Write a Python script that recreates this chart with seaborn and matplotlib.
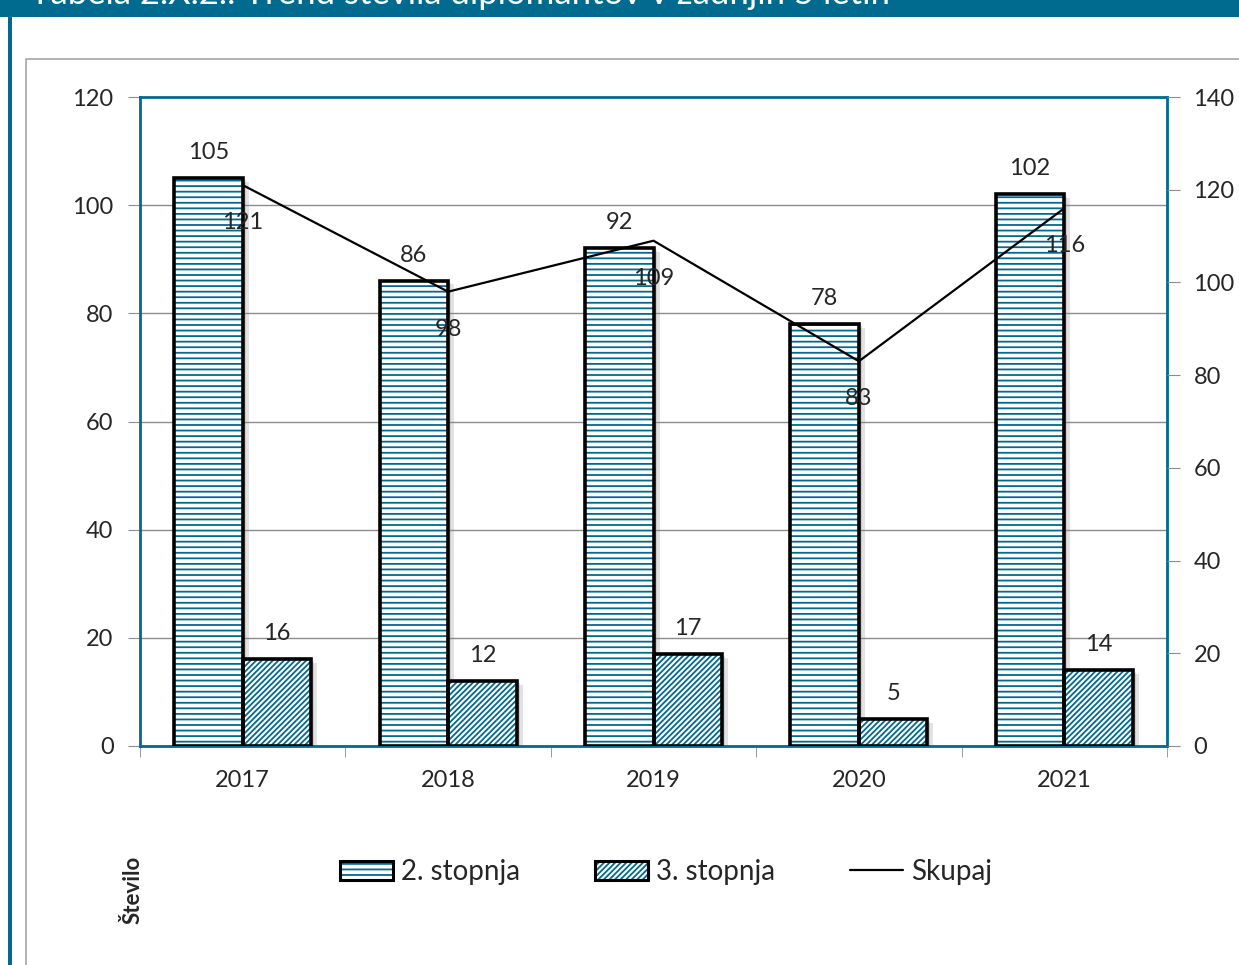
import numpy as np
import pandas as pd
import seaborn as sns
import matplotlib.pyplot as plt
import matplotlib.transforms as mtransforms
from matplotlib.patches import Rectangle, Patch
from matplotlib.lines import Line2D
from matplotlib.legend_handler import HandlerTuple

# Data
leta = ['2017', '2018', '2019', '2020', '2021']
stopnja_2 = [105, 86, 92, 78, 102]
stopnja_3 = [16, 12, 17, 5, 14]
skupaj = [121, 98, 109, 83, 116]
serije = ['2. stopnja', '3. stopnja']
naslov = 'Tabela 2.X.2.: Trend števila diplomantov v zadnjih 5 letih'

teal = '#006a8f'
grid_gray = '#8c8c8c'
hatches = ['---', '//////']

df = pd.DataFrame({
    'leto': leta * 2,
    'stevilo': stopnja_2 + stopnja_3,
    'stopnja': [serije[0]] * len(leta) + [serije[1]] * len(leta),
})

sns.set_style('white')
plt.rcParams['font.family'] = ['Lato', 'DejaVu Sans']
plt.rcParams['hatch.linewidth'] = 1.3

fig = plt.figure(figsize=(12.39, 9.65), dpi=100)

# page decoration: banner, left border, outer chart frame
fig.patches.append(Rectangle((0, 1 - 17 / 965), 1, 17 / 965, transform=fig.transFigure,
                             facecolor=teal, edgecolor='none', zorder=0))
fig.patches.append(Rectangle((8 / 1239, 0), 4 / 1239, 1, transform=fig.transFigure,
                             facecolor=teal, edgecolor='none', zorder=0))
fig.lines.append(Line2D([26 / 1239, 26 / 1239, 1], [0, 1 - 59 / 965, 1 - 59 / 965],
                        transform=fig.transFigure, color='#a6a6a6', lw=1.2))
fig.text(30 / 1239, 1 - 4 / 965, naslov, color='white', fontsize=25, va='baseline',
         ha='left')

ax = fig.add_axes([140 / 1239, 1 - 746 / 965, 1027 / 1239, 649 / 965])

sns.barplot(data=df, x='leto', y='stevilo', hue='stopnja', ax=ax, width=0.667,
            palette=['white', 'white'], legend=False, saturation=1, zorder=3)

# soft drop shadow behind the bars
shadow_tr = [mtransforms.offset_copy(ax.transData, fig=fig, x=d, y=-d * 0.6, units='dots')
             for d in (3, 6)]

bars = [p for p in ax.patches if isinstance(p, Rectangle)]
for i, bar in enumerate(bars):
    k = i // len(leta)
    bar.set_hatch(hatches[k])
    bar.set_edgecolor(teal)
    bar.set_linewidth(0)
    bar.set_zorder(3)
    for tr in shadow_tr:
        ax.add_patch(Rectangle(bar.get_xy(), bar.get_width(), bar.get_height(),
                               facecolor='#7f7f7f', edgecolor='none', alpha=0.22,
                               transform=tr, zorder=2.5))
    ax.add_patch(Rectangle(bar.get_xy(), bar.get_width(), bar.get_height(), fill=False,
                           edgecolor='black', linewidth=2.6, zorder=4))
    val = stopnja_2[i % len(leta)] if k == 0 else stopnja_3[i % len(leta)]
    ax.annotate(str(val), (bar.get_x() + bar.get_width() / 2, bar.get_height()),
                xytext=(0, 11), textcoords='offset points', ha='center', va='bottom',
                fontsize=17, zorder=6)

ax.set_ylim(0, 120)
ax.set_yticks(range(0, 121, 20))
ax.set_xlim(-0.5, len(leta) - 0.5)
ax.set_xlabel('')
ax.set_ylabel('')
ax.yaxis.grid(True, color=grid_gray, lw=1)
ax.set_axisbelow(True)
ax.tick_params(axis='y', left=True, length=9, color=grid_gray, labelsize=17, pad=10)
ax.set_xticks(range(len(leta)))
ax.set_xticklabels(leta)
ax.set_xticks(np.arange(-0.5, len(leta), 1), minor=True)
ax.tick_params(axis='x', which='major', length=0, labelsize=17, pad=17)
ax.tick_params(axis='x', which='minor', bottom=True, length=8, color=grid_gray)
for s in ax.spines.values():
    s.set_color(teal)
    s.set_linewidth(2)

# Skupaj on the secondary axis
ax2 = ax.twinx()
sns.pointplot(x=leta, y=skupaj, ax=ax2, color='black', markers='', linewidth=1.6,
              zorder=5)
ax2.set_ylim(0, 140)
ax2.set_yticks(range(0, 141, 20))
ax2.set_xlim(-0.5, len(leta) - 0.5)
ax2.tick_params(axis='y', right=True, length=9, color=grid_gray, labelsize=17, pad=10)
ax2.grid(False)
for s in ax2.spines.values():
    s.set_visible(False)
for i, v in enumerate(skupaj):
    ax2.annotate(str(v), (i, v), xytext=(0, -27), textcoords='offset points',
                 ha='center', va='center', fontsize=17, zorder=6)

# Legend
h2 = (Patch(facecolor='white', edgecolor=teal, hatch=hatches[0], linewidth=0),
      Patch(facecolor='none', edgecolor='black', linewidth=2.2))
h3 = (Patch(facecolor='white', edgecolor=teal, hatch=hatches[1], linewidth=0),
      Patch(facecolor='none', edgecolor='black', linewidth=2.2))
hl = Line2D([], [], color='black', lw=1.6)
fig.legend([h2, h3, hl], serije + ['Skupaj'], handler_map={tuple: HandlerTuple(ndivide=1)},
           loc='center', bbox_to_anchor=(666 / 1239, 1 - 872 / 965), ncol=3, frameon=False,
           fontsize=20, handlelength=1.9, handleheight=0.7, handletextpad=0.3,
           columnspacing=2.7)

fig.text(133 / 1239, 1 - 890 / 965, 'Število', rotation=90, fontsize=16,
         fontweight='bold', ha='center', va='center')

fig.savefig('out.png', dpi=100)
